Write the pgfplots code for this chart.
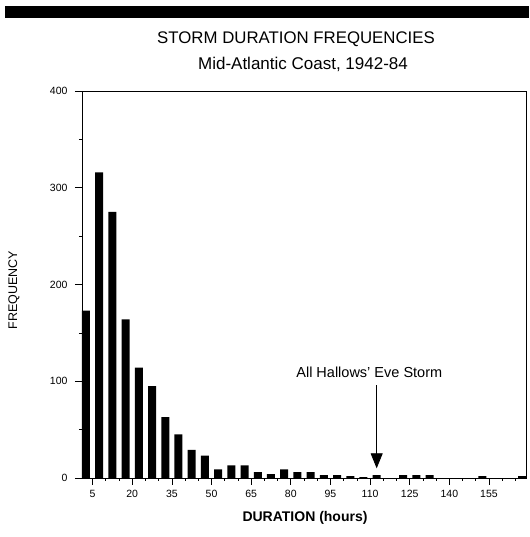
\documentclass[border=0pt]{standalone}
\usepackage{fontspec}
\setmainfont{Liberation Sans}
\usepackage{pgfplots}
\pgfplotsset{compat=1.18}
\usetikzlibrary{arrows.meta}

\pgfplotstableread{
x y
2.5 173
7.5 316
12.5 275
17.5 164
22.5 114
27.5 95
32.5 63
37.5 45
42.5 29
47.5 23
52.5 9
57.5 13
62.5 13
67.5 6
72.5 4
77.5 9
82.5 6
87.5 6
92.5 3
97.5 3
102.5 2
107.5 1
112.5 3
117.5 0
122.5 3
127.5 3
132.5 3
137.5 0
142.5 0
147.5 0
152.5 2
157.5 0
162.5 0
167.5 2
}\durdata

\begin{document}
\begin{tikzpicture}
\useasboundingbox (-82pt,-59pt) rectangle (447pt,478pt);
\fill[black] (-77pt,460pt) rectangle (447pt,472pt);
\node[anchor=base,inner sep=0pt,font=\fontsize{16.8}{18}\selectfont] at (214pt,434.7pt) {STORM DURATION FREQUENCIES};
\node[anchor=base,inner sep=0pt,font=\fontsize{17}{18}\selectfont] at (221pt,408pt) {Mid-Atlantic Coast, 1942-84};
\begin{axis}[
  width=444pt, height=387pt, scale only axis,
  xmin=1, xmax=169, ymin=0, ymax=400,
  ybar, bar width=8pt, bar shift=0pt,
  axis line style={line width=0.8pt},
  ytick={0,100,200,300,400},
  minor ytick={50,150,250,350},
  xtick={5,20,...,155},
  minor xtick={0,5,...,165},
  tick align=outside,
  major tick length=7pt, minor tick length=3pt,
  xtick pos=left, ytick pos=left,
  tick style={black, line width=0.6pt},
  ticklabel style={font=\fontsize{10.5}{11}\selectfont},
  /pgf/number format/assume math mode=true,
  scaled ticks=false,
  xticklabel style={yshift=-2pt},
  yticklabel style={xshift=-4pt},
  clip=false,
]
\addplot[fill=black, draw=none] table[x=x,y=y] {\durdata};
\draw[line width=0.8pt, -{Triangle[width=12pt,length=15pt]}] (axis cs:112.5,96) -- (axis cs:112.5,10);
\node[anchor=base,inner sep=0pt,font=\fontsize{14.5}{16}\selectfont] at (axis cs:109.7,103.4) {All Hallows' Eve Storm};
\end{axis}
\node[anchor=base,inner sep=0pt,font=\bfseries\fontsize{14}{16}\selectfont] at (223pt,-43.5pt) {DURATION (hours)};
\node[rotate=90,inner sep=0pt,font=\fontsize{12.5}{14}\selectfont] at (-68pt,188pt) {FREQUENCY};
\end{tikzpicture}
\end{document}
